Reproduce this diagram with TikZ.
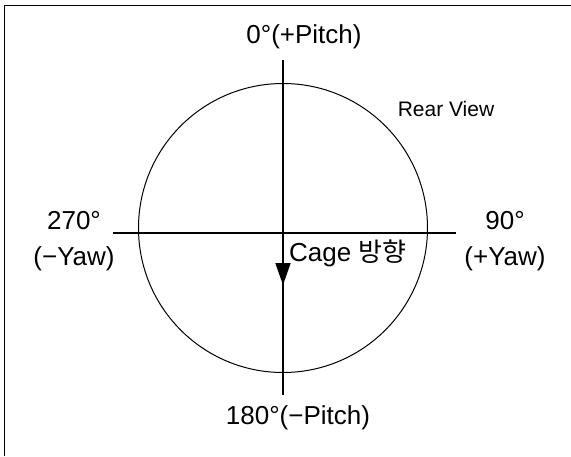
\documentclass[tikz,border=0pt]{standalone}
\usepackage{fontspec}
\setmainfont{Liberation Sans}
\newfontfamily\krfont{Noto Sans CJK KR}
\usetikzlibrary{arrows.meta, positioning}

\begin{document}
\begin{tikzpicture}[
  x=1pt, y=-1pt,
  every node/.style={font=\fontsize{26}{36}\selectfont, inner sep=0pt},
  axis/.style={line width=1.8pt},
  rim/.style={circle, draw, line width=1pt, minimum size=289pt, inner sep=0pt},
  yawlbl/.style={align=center, anchor=base},
]
  \useasboundingbox (0,0) rectangle (571,456);
  % frame, only top and left edges show
  \draw[line width=1pt] (571,5) -- (4,5) -- (4,456);

  \node[rim] (view) at (283,228) {};

  \coordinate (ptop) at (283,60);
  \coordinate (pbot) at (283,395);
  \coordinate (yleft) at (113,233);
  \coordinate (yright) at (456,233);
  \coordinate (cagefrom) at (283,250);
  \coordinate (cageto) at (283,285);

  \draw[axis] (ptop) -- (pbot);
  \draw[axis] (yleft) -- (yright);
  \draw[axis, -{Triangle[length=22pt, width=15pt]}] (cagefrom) -- (cageto);

  \node (pitchp) at (304,37) {0°(+Pitch)};
  \node (pitchm) at (298,418) {180°(−Pitch)};
  % base anchor sits on the last line
  \node[yawlbl] (yawm) at (74,265) {270°\\(−Yaw)};
  \node[yawlbl] (yawp) at (505,265) {90°\\(+Yaw)};
  \node[anchor=west] (cage) at (289,253) {Cage {\krfont 방향}};
  \node[font=\fontsize{21}{24}\selectfont] (rear) at (446,109) {Rear View};
\end{tikzpicture}
\end{document}
